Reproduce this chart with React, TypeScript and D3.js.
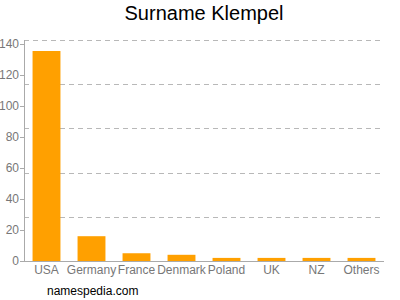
import React from "react";
import * as d3 from "d3";

const categories = ["USA", "Germany", "France", "Denmark", "Poland", "UK", "NZ", "Others"];
const values = [135.5, 16, 5, 4, 2, 2, 2, 2];
const yTicks = [0, 20, 40, 60, 80, 100, 120, 140];
const yMax = 142.6;
const gridCount = 5;

export default function App() {
  const W = 400, H = 300;
  const left = 24, right = 384, top = 40, bottom = 261;
  const x = d3.scaleBand<string>().domain(categories).range([left, right]).paddingInner(0.38).paddingOuter(0.19);
  const y = d3.scaleLinear().domain([0, yMax]).range([bottom, top]);
  const grid = d3.range(1, gridCount + 1).map((i) => (yMax * i) / gridCount);
  const font = "Liberation Sans, Arial, sans-serif";
  return (
    <svg width={W} height={H} style={{ position: "absolute", left: 0, top: 0, background: "#fff" }} fontFamily={font}>
      <text x={204} y={20} textAnchor="middle" fontSize={20} fill="#000">Surname Klempel</text>
      {grid.map((g, i) => (
        <line key={i} x1={left} x2={right} y1={Math.round(y(g)) + 0.5} y2={Math.round(y(g)) + 0.5} stroke="#b8b8b8" strokeDasharray="5,4" strokeWidth={1} />
      ))}
      {categories.map((c, i) => (
        <rect key={c} x={x(c)} y={y(values[i])} width={x.bandwidth()} height={bottom - y(values[i])} fill="#ffa000" />
      ))}
      <line x1={left + 0.5} x2={left + 0.5} y1={top} y2={bottom} stroke="#aaa" />
      <line x1={left} x2={right} y1={bottom + 0.5} y2={bottom + 0.5} stroke="#aaa" />
      {yTicks.map((t) => (
        <g key={t}>
          <line x1={left - 4} x2={left} y1={Math.round(y(t)) + 0.5} y2={Math.round(y(t)) + 0.5} stroke="#aaa" />
          <text x={left - 5} y={y(t) + 4} textAnchor="end" fontSize={12} fill="#777">{t}</text>
        </g>
      ))}
      {categories.map((c) => (
        <text key={c} x={(x(c) as number) + x.bandwidth() / 2} y={274} textAnchor="middle" fontSize={12} fill="#777">{c}</text>
      ))}
      <text x={47} y={295} fontSize={12} fill="#000">namespedia.com</text>
    </svg>
  );
}
